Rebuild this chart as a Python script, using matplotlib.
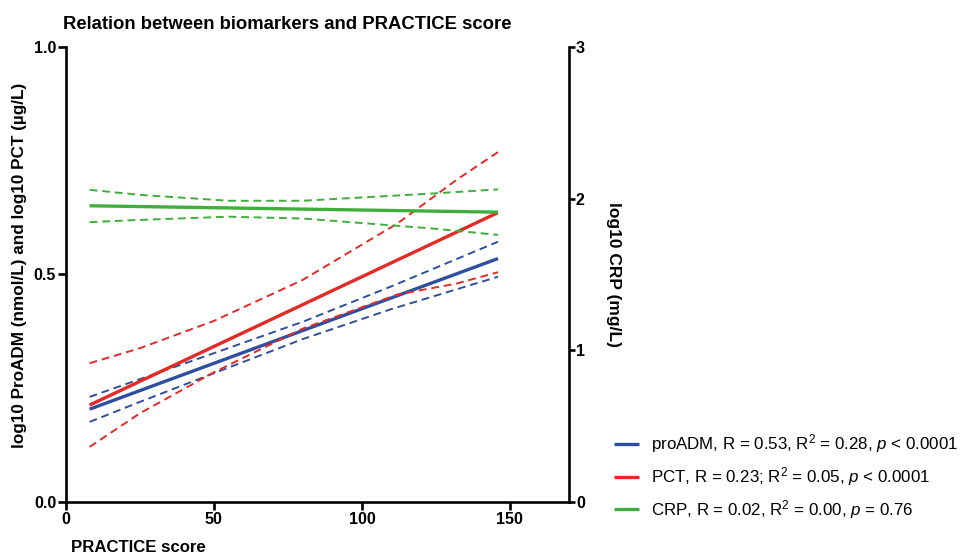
import matplotlib
matplotlib.use('Agg')
import matplotlib.pyplot as plt

plt.rcParams['font.family'] = ['Liberation Sans', 'DejaVu Sans']
plt.rcParams['mathtext.fontset'] = 'custom'
plt.rcParams['mathtext.rm'] = 'Liberation Sans'
plt.rcParams['mathtext.it'] = 'Liberation Sans:italic'

# regression lines (left axis for proADM / PCT, right axis for CRP)
line_x = [8, 146]
adm_fit = [0.204, 0.535]
pct_fit = [0.213, 0.636]
crp_fit = [1.953, 1.911]

# 95% confidence bands
adm_x = [8, 25, 50, 80, 110, 146]
adm_upper = [0.231, 0.270, 0.327, 0.396, 0.474, 0.572]
adm_lower = [0.176, 0.220, 0.283, 0.358, 0.424, 0.495]

pct_x = [8, 25, 50, 80, 112, 132, 146]
pct_upper = [0.305, 0.338, 0.398, 0.488, 0.612, 0.708, 0.769]
pct_lower = [0.121, 0.195, 0.285, 0.381, 0.456, 0.480, 0.505]

crp_x = [8, 25, 55, 80, 124, 146]
crp_upper = [2.058, 2.025, 1.986, 1.986, 2.034, 2.061]
crp_lower = [1.845, 1.860, 1.881, 1.869, 1.803, 1.761]

labels = [r'proADM, R = 0.53, R$^2$ = 0.28, $p$ < 0.0001',
          r'PCT, R = 0.23; R$^2$ = 0.05, $p$ < 0.0001',
          r'CRP, R = 0.02, R$^2$ = 0.00, $p$ = 0.76']

blue = '#2f4e9f'
red = '#e42a27'
green = '#3fae3a'

fig = plt.figure(figsize=(9.73, 5.58), dpi=100)
ax = fig.add_axes([0.0678, 0.1004, 0.5170, 0.8154])
ax2 = ax.twinx()

h1, = ax.plot(line_x, adm_fit, color=blue, lw=2.4, solid_capstyle='butt')
ax.plot(adm_x, adm_upper, color=blue, lw=1.4, ls=(0, (4, 2.5)))
ax.plot(adm_x, adm_lower, color=blue, lw=1.4, ls=(0, (4, 2.5)))

h2, = ax.plot(line_x, pct_fit, color=red, lw=2.4, solid_capstyle='butt')
ax.plot(pct_x, pct_upper, color=red, lw=1.4, ls=(0, (4, 2.5)))
ax.plot(pct_x, pct_lower, color=red, lw=1.4, ls=(0, (4, 2.5)))

h3, = ax2.plot(line_x, crp_fit, color=green, lw=2.4, solid_capstyle='butt')
ax2.plot(crp_x, crp_upper, color=green, lw=1.4, ls=(0, (4, 2.5)))
ax2.plot(crp_x, crp_lower, color=green, lw=1.4, ls=(0, (4, 2.5)))

ax.set_xlim(0, 170)
ax.set_ylim(0, 1.0)
ax2.set_ylim(0, 3)
ax.set_xticks([0, 50, 100, 150])
ax.set_yticks([0.0, 0.5, 1.0])
ax.set_yticklabels(['0.0', '0.5', '1.0'])
ax2.set_yticks([0, 1, 2, 3])

for a in (ax, ax2):
    a.spines['top'].set_visible(False)
    for s in a.spines.values():
        s.set_linewidth(1.9)
ax.spines['right'].set_visible(False)
ax2.spines['left'].set_visible(False)
ax2.spines['bottom'].set_visible(False)

ax.tick_params(axis='both', direction='out', length=6, width=1.9, labelsize=11.5, pad=1)
ax2.tick_params(axis='y', direction='out', length=4, width=1.9, labelsize=11.5, pad=1)
for t in ax.get_xticklabels() + ax.get_yticklabels() + ax2.get_yticklabels():
    t.set_fontweight('bold')

ax.set_ylabel(u'log10 ProADM (nmol/L) and log10 PCT (\u00b5g/L)', fontsize=12.3,
              fontweight='bold')
ax.yaxis.set_label_coords(-0.078, 0.52)
ax2.set_ylabel('log10 CRP (mg/L)', fontsize=12.5, fontweight='bold', rotation=270)
ax2.yaxis.set_label_coords(1.103, 0.50)

fig.text(0.073, 0.011, 'PRACTICE score', fontsize=12.1, fontweight='bold')
fig.text(0.065, 0.948, 'Relation between biomarkers and PRACTICE score',
         fontsize=13.3, fontweight='bold')

fig.legend([h1, h2, h3], labels, loc='upper left', bbox_to_anchor=(0.624, 0.237),
           frameon=False, fontsize=12.2, handlelength=1.5, handletextpad=0.7,
           labelspacing=0.58, borderaxespad=0)

fig.savefig('out.png', dpi=100)
